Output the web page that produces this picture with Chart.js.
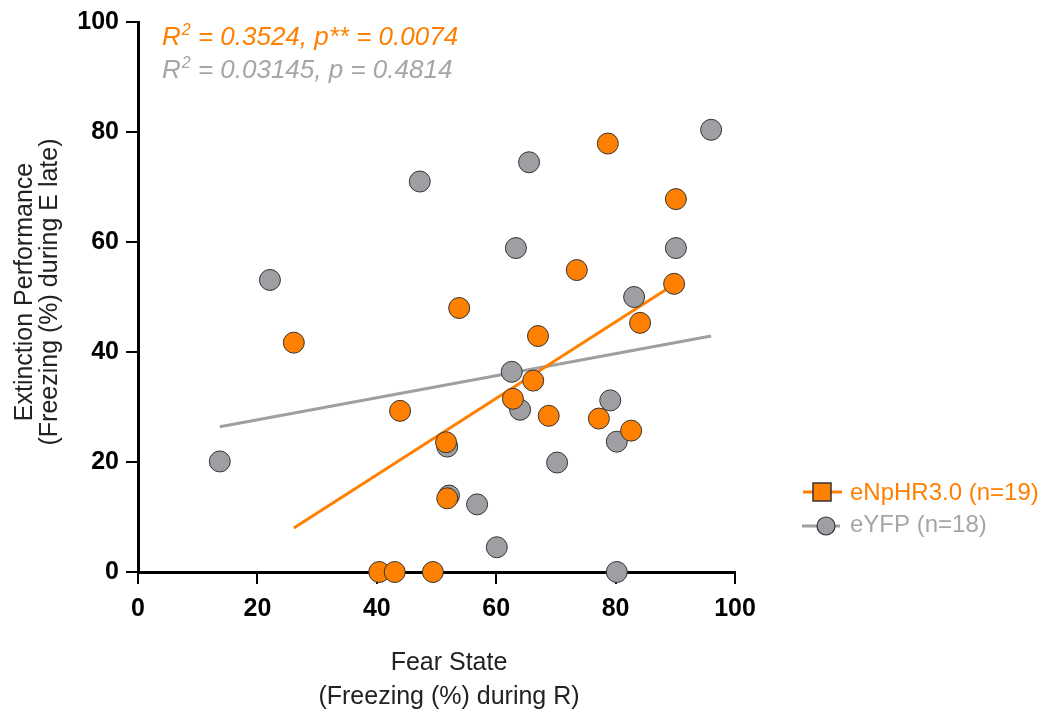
<!DOCTYPE html>
<html>
<head>
<meta charset="utf-8">
<script src="https://cdn.jsdelivr.net/npm/chart.js@4.4.1/dist/chart.umd.min.js"></script>
<style>
html,body{margin:0;padding:0;background:#fff}
canvas{display:block}
</style>
</head>
<body>
<canvas id="fear" width="1047" height="717"></canvas>
<script>
const ORANGE = '#ff8000', GREY = '#9e9ea3', GREY_TXT = '#a6a6a6', EDGE = '#333';
const FONT = '"Liberation Sans", Arial, sans-serif';

// eNpHR3.0 animals: fear state (R) vs extinction performance (E late)
const hrX = [26.1, 40.4, 43.0, 49.4, 43.9, 51.6, 51.8, 53.8, 62.8, 66.2, 67.0, 68.8, 73.5, 77.2, 78.7, 82.6, 84.1, 89.8, 90.1];
const hrY = [41.7, 0, 0, 0, 29.3, 23.6, 13.4, 48.0, 31.5, 34.8, 42.9, 28.4, 54.9, 27.9, 77.9, 25.7, 45.3, 52.4, 67.8];
// eYFP controls
const yfpX = [13.7, 22.1, 47.2, 51.8, 52.1, 56.8, 60.1, 62.6, 63.3, 64.0, 65.5, 70.2, 79.1, 80.2, 80.2, 83.1, 90.1, 96.0];
const yfpY = [20.1, 53.1, 71.0, 22.8, 13.9, 12.3, 4.5, 36.4, 58.9, 29.5, 74.5, 19.9, 31.2, 23.7, 0, 50.0, 58.9, 80.4];

// linear fit end points
const hrFitX = [26.1, 90.1], hrFitY = [8.0, 52.5];
const yfpFitX = [13.7, 96.0], yfpFitY = [26.4, 42.9];

const AXIS_MIN = 0, AXIS_MAX = 100, AXIS_STEP = 20;
const SERIES = ['eNpHR3.0 (n=19)', 'eYFP (n=18)'];
const STATS = [
  {r2: '0.3524', p: 'p**', pv: '0.0074', color: ORANGE},
  {r2: '0.03145', p: 'p', pv: '0.4814', color: GREY_TXT}
];

const pts = (xs, ys) => xs.map((x, i) => ({x, y: ys[i]}));
const TICK_FONT = {family: FONT, size: 25, weight: 'bold'};

const extras = {
  id: 'extras',
  afterDraw(chart) {
    const c = chart.ctx;
    c.save();

    // regression stats, top left
    c.textBaseline = 'alphabetic';
    STATS.forEach((s, i) => {
      const y = 45 + i * 33;
      let x = 162;
      c.fillStyle = s.color;
      c.font = 'italic 26px ' + FONT;
      c.fillText('R', x, y); x += c.measureText('R').width;
      c.font = 'italic 16px ' + FONT;
      c.fillText('2', x + 1, y - 10); x += c.measureText('2').width + 1;
      c.font = 'italic 26px ' + FONT;
      c.fillText(' = ' + s.r2 + ', ' + s.p + ' = ' + s.pv, x, y);
    });

    // axis titles
    c.fillStyle = '#222';
    c.font = '25px ' + FONT;
    c.textAlign = 'center';
    c.textBaseline = 'middle';
    c.fillText('Fear State', 449, 663);
    c.fillText('(Freezing (%) during R)', 449, 697);
    c.save();
    c.translate(25, 292);
    c.rotate(-Math.PI / 2);
    c.fillText('Extinction Performance', 0, 0);
    c.fillText('(Freezing (%) during E late)', 0, 25);
    c.restore();

    // legend
    c.textAlign = 'left';
    c.font = '24px ' + FONT;
    c.lineWidth = 3;
    c.strokeStyle = ORANGE;
    c.beginPath(); c.moveTo(803, 492); c.lineTo(842, 492); c.stroke();
    c.fillStyle = ORANGE;
    c.fillRect(813, 483, 18, 18);
    c.lineWidth = 1.5; c.strokeStyle = EDGE;
    c.strokeRect(813, 483, 18, 18);
    c.fillText(SERIES[0], 850, 493);

    c.lineWidth = 3; c.strokeStyle = GREY;
    c.beginPath(); c.moveTo(802, 526); c.lineTo(840, 526); c.stroke();
    c.fillStyle = GREY;
    c.beginPath(); c.arc(826, 526, 9, 0, Math.PI * 2); c.fill();
    c.lineWidth = 1.2; c.strokeStyle = EDGE; c.stroke();
    c.fillStyle = GREY_TXT;
    c.fillText(SERIES[1], 850, 525);

    c.restore();
  }
};

const axis = (extra) => Object.assign({
  type: 'linear', min: AXIS_MIN, max: AXIS_MAX,
  grid: {display: true, drawOnChartArea: false, drawTicks: true, tickLength: 12, color: '#000', lineWidth: 2},
  border: {display: true, color: '#000', width: 3}
}, extra);

new Chart(document.getElementById('fear'), {
  type: 'scatter',
  data: {
    datasets: [
      {label: SERIES[0], data: pts(hrX, hrY), backgroundColor: ORANGE, borderColor: EDGE,
       borderWidth: 1, pointRadius: 10.5, clip: false, order: 0},
      {label: SERIES[1], data: pts(yfpX, yfpY), backgroundColor: GREY, borderColor: EDGE,
       borderWidth: 1, pointRadius: 10.5, clip: false, order: 1},
      {label: 'fit hr', data: pts(hrFitX, hrFitY), showLine: true, borderColor: ORANGE,
       borderWidth: 3, pointRadius: 0, order: 2},
      {label: 'fit yfp', data: pts(yfpFitX, yfpFitY), showLine: true, borderColor: GREY,
       borderWidth: 3, pointRadius: 0, order: 3}
    ]
  },
  options: {
    responsive: false,
    animation: false,
    layout: {padding: {top: 20, right: 312, left: 0, bottom: 0}},
    plugins: {legend: {display: false}, tooltip: {enabled: false}},
    scales: {
      x: axis({position: 'bottom', afterFit: s => { s.height = 145; },
        ticks: {stepSize: AXIS_STEP, padding: 10, color: '#000', font: TICK_FONT}}),
      y: axis({position: 'left', afterFit: s => { s.width = 138; },
        ticks: {stepSize: AXIS_STEP, padding: 7, color: '#000', font: TICK_FONT}})
    }
  },
  plugins: [extras]
});
</script>
</body>
</html>
